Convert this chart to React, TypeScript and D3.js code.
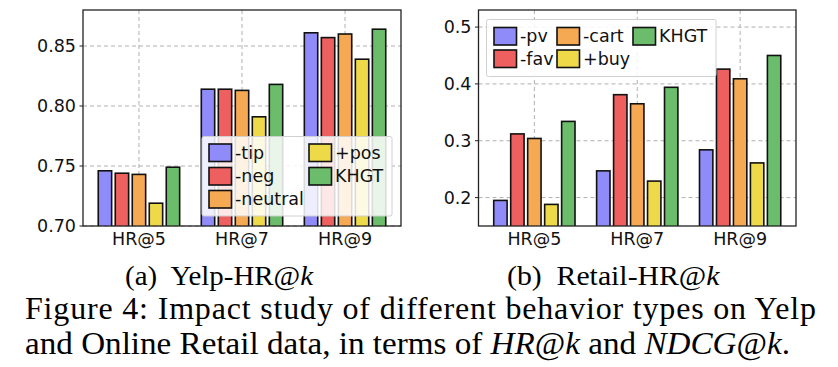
import React from 'react';
import * as d3 from 'd3';

// categories and series values
const categories = ['HR@5', 'HR@7', 'HR@9'];

const yelpNames = ['-tip', '-neg', '-neutral', '+pos', 'KHGT'];
const yelpTip = [0.746, 0.814, 0.861];
const yelpNeg = [0.744, 0.814, 0.857];
const yelpNeutral = [0.743, 0.813, 0.860];
const yelpPos = [0.719, 0.791, 0.839];
const yelpKhgt = [0.749, 0.818, 0.864];
const yelpTicks = [0.70, 0.75, 0.80, 0.85];

const retailNames = ['-pv', '-fav', '-cart', '+buy', 'KHGT'];
const retailPv = [0.195, 0.247, 0.284];
const retailFav = [0.312, 0.381, 0.426];
const retailCart = [0.304, 0.365, 0.409];
const retailBuy = [0.188, 0.229, 0.261];
const retailKhgt = [0.334, 0.394, 0.450];
const retailTicks = [0.2, 0.3, 0.4, 0.5];

const colors = ['#8f8bf8', '#ee5f5f', '#f5a953', '#eed949', '#6cbd6b'];

const FONT = 'DejaVu Sans, sans-serif';
const SERIF = '"Liberation Serif", "Times New Roman", serif';

interface PanelProps {
  names: string[];
  series: number[][];
  yDomain: [number, number];
  ticks: number[];
  fmt: string;
  left: number;
  right: number;
  legend: { box: [number, number, number, number]; cols: number[][]; colX: number[]; rowY: number[] };
}

const Panel: React.FC<PanelProps> = ({ names, series, yDomain, ticks, fmt, left, right, legend }) => {
  const top = 10;
  const bottom = 226;
  const x = d3.scaleLinear().domain([-0.543, categories.length - 1 + 0.543]).range([left, right]);
  const y = d3.scaleLinear().domain(yDomain).range([bottom, top]);
  const step = 0.165;
  const bw = 0.13;
  const format = d3.format(fmt);
  const clipId = `clip-${left}`;
  const [bx, by, bwid, bh] = legend.box;

  return (
    <g>
      <defs>
        <clipPath id={clipId}>
          <rect x={left} y={top} width={right - left} height={bottom - top} />
        </clipPath>
      </defs>
      {/* grid */}
      <g stroke="#b0b0b0" strokeWidth={1} strokeDasharray="4,3">
        {ticks.map(t => (
          <line key={`gy${t}`} x1={left} x2={right} y1={y(t)} y2={y(t)} />
        ))}
        {categories.map((c, i) => (
          <line key={`gx${c}`} x1={x(i)} x2={x(i)} y1={top} y2={bottom} />
        ))}
      </g>
      {/* bars */}
      <g clipPath={`url(#${clipId})`}>
        {series.map((vals, s) =>
          vals.map((v, i) => {
            const x0 = x(i + (s - 2) * step - bw / 2);
            const x1 = x(i + (s - 2) * step + bw / 2);
            return (
              <rect
                key={`${s}-${i}`}
                x={x0}
                y={y(v)}
                width={x1 - x0}
                height={bottom + 5 - y(v)}
                fill={colors[s]}
                stroke="#111"
                strokeWidth={1.6}
              />
            );
          })
        )}
      </g>
      {/* legend */}
      <rect x={bx} y={by} width={bwid} height={bh} rx={2} fill="#fff" fillOpacity={0.85} stroke="#d0d0d0" strokeWidth={1} />
      {legend.cols.map((col, ci) =>
        col.map((s, ri) => (
          <g key={`lg${s}`}>
            <rect
              x={legend.colX[ci]}
              y={legend.rowY[ri] - 8.5}
              width={22.5}
              height={17.5}
              fill={colors[s]}
              stroke="#111"
              strokeWidth={1.6}
            />
            <text
              x={legend.colX[ci] + 26}
              y={legend.rowY[ri]}
              dy="0.35em"
              fontFamily={FONT}
              fontSize={17.5}
              fill="#111"
            >
              {names[s]}
            </text>
          </g>
        ))
      )}
      {/* frame */}
      <rect x={left} y={top} width={right - left} height={bottom - top} fill="none" stroke="#222" strokeWidth={1.3} />
      {/* y ticks */}
      {ticks.map(t => (
        <g key={`ty${t}`}>
          <line x1={left - 3.5} x2={left} y1={y(t)} y2={y(t)} stroke="#222" strokeWidth={1} />
          <text x={left - 7} y={y(t)} dy="0.35em" textAnchor="end" fontFamily={FONT} fontSize={17.5} fill="#111">
            {format(t)}
          </text>
        </g>
      ))}
      {/* x ticks */}
      {categories.map((c, i) => (
        <text key={`tx${c}`} x={x(i)} y={244.5} textAnchor="middle" fontFamily={FONT} fontSize={17.5} fill="#111">
          {c}
        </text>
      ))}
    </g>
  );
};

const App: React.FC = () => {
  return (
    <svg
      width={838}
      height={367}
      viewBox="0 0 838 367"
      style={{ position: 'absolute', left: 0, top: 0, background: '#fff' }}
    >
      <rect width={838} height={367} fill="#fff" />
      <Panel
        names={yelpNames}
        series={[yelpTip, yelpNeg, yelpNeutral, yelpPos, yelpKhgt]}
        yDomain={[0.70, 0.88]}
        ticks={yelpTicks}
        fmt=".2f"
        left={83}
        right={401}
        legend={{ box: [202, 136.5, 190, 79.5], cols: [[0, 1, 2], [3, 4]], colX: [209, 309], rowY: [152.5, 176, 199] }}
      />
      <Panel
        names={retailNames}
        series={[retailPv, retailFav, retailCart, retailBuy, retailKhgt]}
        yDomain={[0.15, 0.53]}
        ticks={retailTicks}
        fmt=".1f"
        left={478.5}
        right={796}
        legend={{ box: [486.5, 19.5, 229.5, 57], cols: [[0, 1], [2, 3], [4]], colX: [494, 557, 633], rowY: [36, 58.5] }}
      />
      {/* captions */}
      <g fontFamily={SERIF} fill="#000">
        <text x={125} y={285} fontSize={28} textLength={188} lengthAdjust="spacingAndGlyphs">
          (a)&#160; Yelp-HR@<tspan fontStyle="italic">k</tspan>
        </text>
        <text x={507} y={285} fontSize={28} textLength={212.5} lengthAdjust="spacingAndGlyphs">
          (b)&#160; Retail-HR@<tspan fontStyle="italic">k</tspan>
        </text>
        <text x={25} y={318.5} fontSize={32} textLength={791} lengthAdjust="spacing">
          Figure 4: Impact study of different behavior types on Yelp
        </text>
        <text x={25} y={353.5} fontSize={32} textLength={765} lengthAdjust="spacingAndGlyphs">
          and Online Retail data, in terms of <tspan fontStyle="italic">HR</tspan>@<tspan fontStyle="italic">k</tspan> and{' '}
          <tspan fontStyle="italic">NDCG</tspan>@<tspan fontStyle="italic">k</tspan>.
        </text>
      </g>
    </svg>
  );
};

export default App;
